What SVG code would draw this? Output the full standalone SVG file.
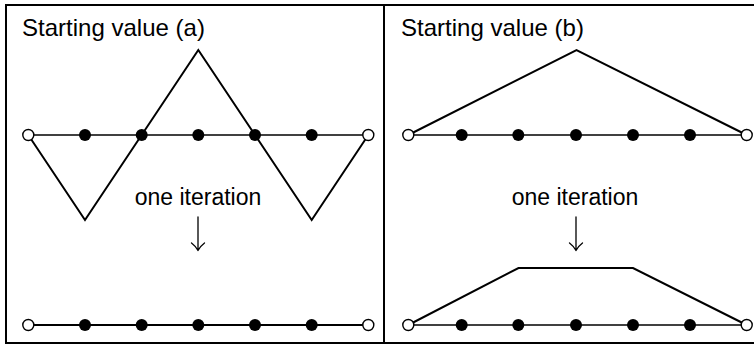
<svg xmlns="http://www.w3.org/2000/svg" width="754" height="345" viewBox="0 0 754 345">
<style>
.frame{fill:none;stroke:#000;stroke-width:2}
.axis{fill:none;stroke:#000;stroke-width:1.6}
.curve{fill:none;stroke:#000;stroke-width:2;stroke-linejoin:miter}
.open{fill:#fff;stroke:#000;stroke-width:1.4}
.dot{fill:#000}
.title{font-family:"Liberation Sans",Arial,sans-serif;font-size:24px;fill:#000}
.lbl{font-family:"Liberation Sans",Arial,sans-serif;font-size:23px;fill:#000;text-anchor:middle}
.arrow{fill:none;stroke:#000;stroke-width:1.3;stroke-linecap:round;stroke-linejoin:round}
</style>
<rect class="frame" x="6" y="5" width="760" height="338"/>
<line class="frame" x1="384" y1="5" x2="384" y2="343"/>
<g id="panel-a">
<text class="title" x="22" y="36" textLength="183" lengthAdjust="spacingAndGlyphs">Starting value (a)</text>
<g id="connectors-a">
<line class="axis" x1="28.3" y1="135" x2="368.3" y2="135"/>
<polyline class="curve" points="28.3,135 85,220 198.3,50 311.7,220 368.3,135"/>
<line class="axis" x1="28.3" y1="325" x2="368.3" y2="325" style="stroke-width:2"/>
<path class="arrow" d="M198,217 V250.5 M191.5,243 Q195.5,246 198,250.5 Q200.5,246 204.5,243"/>
</g>
<g id="nodes-a-top">
<circle class="open" cx="28.3" cy="135" r="5.5"/>
<circle class="dot" cx="85" cy="135" r="6"/>
<circle class="dot" cx="141.7" cy="135" r="6"/>
<circle class="dot" cx="198.3" cy="135" r="6"/>
<circle class="dot" cx="255" cy="135" r="6"/>
<circle class="dot" cx="311.7" cy="135" r="6"/>
<circle class="open" cx="368.3" cy="135" r="5.5"/>
</g>
<text class="lbl" x="198" y="205">one iteration</text>
<g id="nodes-a-bottom">
<circle class="open" cx="28.3" cy="325" r="5.5"/>
<circle class="dot" cx="85" cy="325" r="6"/>
<circle class="dot" cx="141.7" cy="325" r="6"/>
<circle class="dot" cx="198.3" cy="325" r="6"/>
<circle class="dot" cx="255" cy="325" r="6"/>
<circle class="dot" cx="311.7" cy="325" r="6"/>
<circle class="open" cx="368.3" cy="325" r="5.5"/>
</g>
</g>
<g id="panel-b">
<text class="title" x="401" y="36" textLength="183" lengthAdjust="spacingAndGlyphs">Starting value (b)</text>
<g id="connectors-b">
<line class="axis" x1="408.3" y1="135" x2="746.7" y2="135"/>
<polyline class="curve" points="408.3,135 576.5,50 746.7,135"/>
<line class="axis" x1="408.3" y1="325" x2="746.7" y2="325"/>
<polyline class="curve" points="408.3,325 518.5,268 633,268 746.7,325"/>
<path class="arrow" d="M576,217 V250.5 M569.5,243 Q573.5,246 576,250.5 Q578.5,246 582.5,243"/>
</g>
<g id="nodes-b-top">
<circle class="open" cx="408.3" cy="135" r="5.5"/>
<circle class="dot" cx="461.7" cy="135" r="6"/>
<circle class="dot" cx="518.3" cy="135" r="6"/>
<circle class="dot" cx="576" cy="135" r="6"/>
<circle class="dot" cx="633" cy="135" r="6"/>
<circle class="dot" cx="690" cy="135" r="6"/>
<circle class="open" cx="746.7" cy="135" r="5.5"/>
</g>
<text class="lbl" x="575" y="205">one iteration</text>
<g id="nodes-b-bottom">
<circle class="open" cx="408.3" cy="325" r="5.5"/>
<circle class="dot" cx="461.7" cy="325" r="6"/>
<circle class="dot" cx="518.3" cy="325" r="6"/>
<circle class="dot" cx="576" cy="325" r="6"/>
<circle class="dot" cx="633" cy="325" r="6"/>
<circle class="dot" cx="690" cy="325" r="6"/>
<circle class="open" cx="746.7" cy="325" r="5.5"/>
</g>
</g>
</svg>
